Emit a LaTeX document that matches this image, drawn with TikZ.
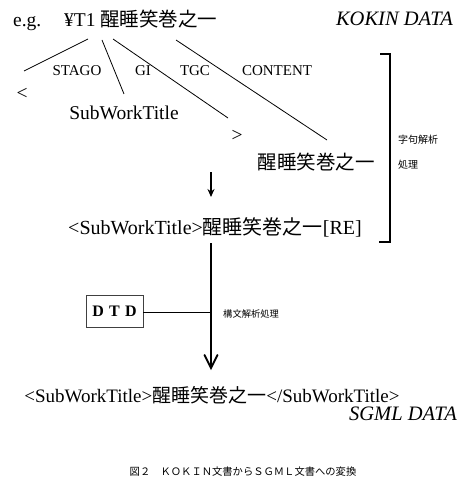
\documentclass[tikz,border=0pt]{standalone}
\usepackage{fontspec}
\setmainfont{Liberation Serif}
\newfontfamily\cjk{Noto Sans CJK JP}
\usetikzlibrary{arrows.meta}
\begin{document}
\begin{tikzpicture}[x=1pt,y=-1pt,
  txt/.style={inner sep=0pt,anchor=center},
  big/.style={txt,font=\fontsize{19.5}{22}\selectfont},
  lab/.style={txt,font=\fontsize{15}{17}\selectfont},
  small/.style={txt,font=\cjk\fontsize{10}{12}\selectfont},
  conn/.style={line width=0.8pt},
  vline/.style={line width=1.3pt}]
\useasboundingbox (0,0) rectangle (470,489);
% top line
\node[big,anchor=base west] (src) at (64,27) {¥T1 {\cjk 醒睡笑巻之一}};
\node[big,anchor=base west] (eg) at (13,27) {e.g.};
\node[big,anchor=base east,font=\itshape\fontsize{20.5}{22}\selectfont] (kokin) at (453,26) {KOKIN DATA};
% labels
\node[lab] (stago) at (77,71) {STAGO};
\node[lab] (gi) at (143,71) {GI};
\node[lab] (tgc) at (195,71) {TGC};
\node[lab] (content) at (277,71) {CONTENT};
\node[big] (lt) at (22,94) {<};
\node[big] (swt) at (124,113) {SubWorkTitle};
\node[big] (gt) at (237,136) {>};
\node[big,font=\cjk\fontsize{19.5}{22}\selectfont] (cont) at (316,162) {醒睡笑巻之一};
% connector endpoints
\coordinate (s1) at (88,39); \coordinate (e1) at (24,71);
\coordinate (s2) at (102,40); \coordinate (e2) at (124,94);
\coordinate (s3) at (113,39); \coordinate (e3) at (228,118);
\coordinate (s4) at (176,40); \coordinate (e4) at (327,140);
\draw[conn] (s1) -- (e1);
\draw[conn] (s2) -- (e2);
\draw[conn] (s3) -- (e3);
\draw[conn] (s4) -- (e4);
% bracket
\coordinate (bt) at (380,54); \coordinate (btr) at (390,54);
\coordinate (bbr) at (390,242); \coordinate (bb) at (379,242);
\draw[line width=1.6pt] (bt) -- (btr) -- (bbr) -- (bb);
\node[small,anchor=west] (lex1) at (398,140) {字句解析};
\node[small,anchor=west] (lex2) at (398,165) {処理};
% small arrow
\coordinate (a1) at (211,172);
\coordinate (a2) at (211,197);
\node[big,font=\fontsize{20}{22}\selectfont] (re) at (215,227) {<SubWorkTitle>{\cjk 醒睡笑巻之一}[RE]};
\draw[vline,-{Stealth[length=8pt,width=7pt]}] (a1) -- (a2);
% long arrow
\coordinate (l1) at (211,243);
\coordinate (l2) at (211,368);
\coordinate (h1) at (204.5,355);
\coordinate (h2) at (217.5,355);
\draw[vline] (l1) -- (l2);
\draw[line width=2pt,line cap=round,line join=miter] (h1) -- (l2) -- (h2);
% DTD
\node[draw=black!75,line width=0.8pt,minimum width=57pt,minimum height=32pt,inner sep=0pt,font=\bfseries\fontsize{16}{18}\selectfont] (dtd) at (114.5,311) {D\,\,T\,\,D};
\coordinate (j) at (211,312);
\draw[line width=0.7pt] (dtd.east |- j) -- (j);
\node[small,anchor=west,font=\cjk\fontsize{9.3}{11}\selectfont] (parse) at (223,314) {構文解析処理};
% final
\node[big,font=\fontsize{19}{22}\selectfont] (final) at (212,395.5) {<SubWorkTitle>{\cjk 醒睡笑巻之一}</SubWorkTitle>};
\node[big,anchor=east,font=\itshape\fontsize{20.5}{22}\selectfont] (sgml) at (457,414) {SGML DATA};
\node[small,font=\cjk\fontsize{10.3}{12}\selectfont] (cap) at (243,472) {図２　ＫＯＫＩＮ文書からＳＧＭＬ文書への変換};
\end{tikzpicture}
\end{document}
